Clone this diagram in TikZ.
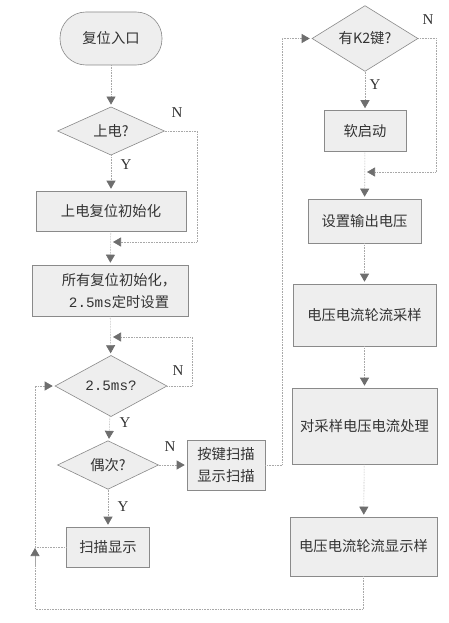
\documentclass[tikz,border=0pt]{standalone}
\usepackage{fontspec}
\setmainfont{Liberation Serif}
\newfontfamily\cjk{Noto Sans CJK SC}
\newfontfamily\monof{Liberation Mono}
\usetikzlibrary{shapes.geometric,arrows.meta}
\definecolor{ink}{HTML}{333333}
\definecolor{edge}{HTML}{8A8A8A}
\definecolor{boxfill}{HTML}{EEEEEE}
\definecolor{wire}{HTML}{A8A8A8}
\definecolor{tipc}{HTML}{6E6E6E}
\begin{document}
\begin{tikzpicture}[x=1pt,y=-1pt,
  every node/.style={text=ink},
  procbox/.style={draw=edge,fill=boxfill,line width=0.6pt,inner sep=0pt,
    font=\cjk\fontsize{14.3}{22}\selectfont,align=center},
  decbox/.style={diamond,draw=edge,fill=boxfill,line width=0.6pt,inner sep=0pt,
    font=\cjk\fontsize{14.3}{16}\selectfont},
  termbox/.style={draw=edge,fill=boxfill,line width=0.6pt,inner sep=0pt,
    rounded corners=26pt,font=\cjk\fontsize{14.3}{16}\selectfont},
  lbl/.style={font=\fontsize{15}{15}\selectfont,text=ink},
  wireline/.style={draw=wire,line width=0.6pt,densely dotted},
  flow/.style={wireline,-{Triangle[width=9pt,length=8pt,fill=tipc,color=tipc]},shorten >=2pt},
]
\fill[white] (0,0) rectangle (449,623);
\useasboundingbox (0,0) rectangle (449,623);

% left column
\node[termbox,minimum width=102pt,minimum height=53pt] (start) at (111,38.5) {复位入口};
\node[decbox,minimum width=107pt,minimum height=42pt] (pwr) at (111,131) {上电?};
\node[procbox,minimum width=150pt,minimum height=40pt] (init1) at (111,211) {上电复位初始化};
\node[procbox,minimum width=156pt,minimum height=51pt] (init2) at (110,290.5) {};
\node[font=\cjk\fontsize{14.3}{22}\selectfont,align=center,inner sep=0pt] (init2t) at (119,291) {所有复位初始化，\\{\monof 2.5ms}定时设置};
\node[decbox,minimum width=112pt,minimum height=44pt] (t25) at (111,386) {\monof 2.5ms?};
\node[decbox,minimum width=101pt,minimum height=42pt] (odd) at (108,465) {偶次?};
\node[procbox,minimum width=78pt,minimum height=50pt] (keyscan) at (226,465) {按键扫描\\显示扫描};
\node[procbox,minimum width=83pt,minimum height=40pt] (scan) at (108,547) {扫描显示};

% right column
\node[decbox,minimum width=106pt,minimum height=43pt] (k2) at (365,38.5) {有K2键?};
\node[procbox,minimum width=82pt,minimum height=41pt] (soft) at (365,131) {软启动};
\node[procbox,minimum width=113pt,minimum height=44pt] (setv) at (364.5,221) {设置输出电压};
\node[procbox,minimum width=143pt,minimum height=62pt] (samp) at (364.5,315) {电压电流轮流采样};
\node[procbox,minimum width=145pt,minimum height=76pt] (handle) at (364.5,426) {对采样电压电流处理};
\node[procbox,minimum width=147pt,minimum height=59pt] (disp) at (363.5,546.5) {电压电流轮流显示样};

% labels
\node[lbl] (n1) at (177,113) {N};
\node[lbl] (y1) at (126,165) {Y};
\node[lbl] (n2) at (178,371) {N};
\node[lbl] (y2) at (125,423) {Y};
\node[lbl] (n3) at (170,447) {N};
\node[lbl] (y3) at (123,507) {Y};
\node[lbl] (n4) at (428,20) {N};
\node[lbl] (y4) at (375,85) {Y};

% coordinates
\coordinate (pA) at (197,131);
\coordinate (pB) at (197,242);
\coordinate (pC) at (111,242);
\coordinate (tA) at (192,386);
\coordinate (tB) at (192,337);
\coordinate (tC) at (111,337);
\coordinate (kA) at (282,465);
\coordinate (kB) at (282,38.5);
\coordinate (qA) at (436,38.5);
\coordinate (qB) at (436,172);
\coordinate (qC) at (365,172);
\coordinate (bA) at (363.5,609);
\coordinate (bB) at (35,609);
\coordinate (bC) at (35,386);
\coordinate (sA) at (35,547);
\coordinate (uA) at (35,566);
\coordinate (uB) at (35,548);

% connectors
\draw[flow] (start) -- (pwr);
\draw[flow] (pwr) -- (init1);
\draw[flow] (pwr.east) -- (pA) -- (pB) -- (pC);
\draw[flow] (init1) -- (init2);
\draw[flow] (init2) -- (t25);
\draw[flow] (t25.east) -- (tA) -- (tB) -- (tC);
\draw[flow] (t25) -- (odd);
\draw[flow] (odd) -- (scan);
\draw[flow] (odd) -- (keyscan);
\draw[flow] (keyscan.east) -- (kA) -- (kB) -- (k2.west);
\draw[flow] (k2) -- (soft);
\draw[flow] (k2.east) -- (qA) -- (qB) -- (qC);
\draw[flow] (soft) -- (setv);
\draw[flow] (setv) -- (samp);
\draw[flow] (samp) -- (handle);
\draw[flow] (handle) -- (disp);
\draw[flow] (disp.south) -- (bA) -- (bB) -- (bC) -- (t25.west);
\draw[wireline] (scan.west) -- (sA);
\draw[flow,shorten >=0pt] (uA) -- (uB);
\end{tikzpicture}
\end{document}
